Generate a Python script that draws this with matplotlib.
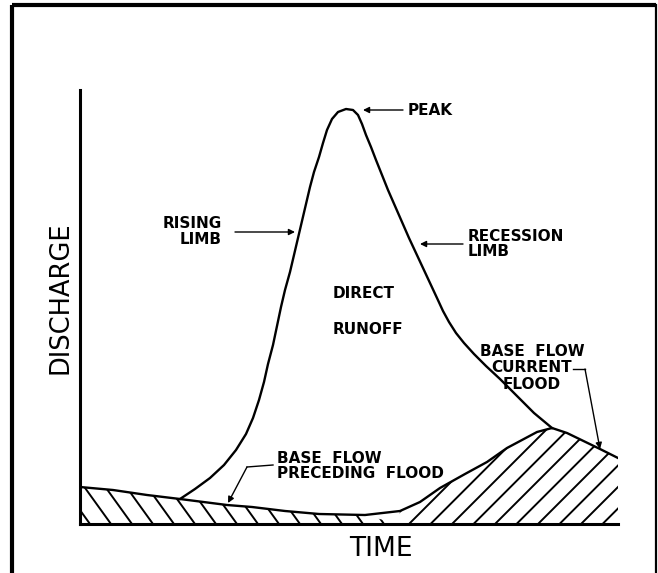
import numpy as np
import matplotlib
matplotlib.use('Agg')
import matplotlib.pyplot as plt
from matplotlib.patches import Polygon
from matplotlib.lines import Line2D

plt.rcParams['font.family'] = ['DejaVu Sans']

# hydrograph (direct runoff curve), time vs discharge in arbitrary units
hydro_t = [100, 115, 130, 144, 156, 166, 173, 179, 184, 188, 193, 197, 201, 205,
           210, 214, 218, 222, 226, 230, 234, 239, 243, 247, 252, 258, 266, 273,
           278, 282, 286, 291, 296, 302, 308, 315, 322, 329, 336, 343, 350, 357,
           363, 369, 376, 384, 394, 406, 420, 436, 454, 472]
hydro_q = [25, 35, 46, 59, 74, 90, 106, 124, 142, 160, 179, 198, 217, 234,
           252, 269, 286, 303, 320, 337, 352, 367, 381, 394, 405, 412, 415, 414,
           409, 400, 389, 377, 364, 349, 334, 318, 302, 286, 271, 256, 241, 226,
           213, 202, 191, 181, 170, 158, 145, 129, 111, 96]

# base flow line (preceding flood, then current flood)
base_t = [0, 33, 67, 100, 147, 172, 205, 239, 285, 320, 340, 360, 385, 407,
          427, 457, 472, 487, 520, 538]
base_q = [37, 34, 29, 25, 19, 17, 13, 10, 9, 13, 22, 36, 50, 62,
          76, 92, 96, 91, 75, 66]
split_t = 318  # where preceding base flow ends and current base flow begins

W, H = 658, 573
fig = plt.figure(figsize=(W / 100, H / 100), dpi=100)
ax = fig.add_axes([80 / W, (H - 524) / H, 538 / W, (524 - 90) / H])
ax.set_xlim(0, 538)
ax.set_ylim(0, 434)
for s in ['top', 'right']:
    ax.spines[s].set_visible(False)
ax.spines['left'].set_linewidth(2.2)
ax.spines['bottom'].set_linewidth(2.2)
ax.set_xticks([])
ax.set_yticks([])

# outer frame (bottom edge is cut off in the original)
frame = dict(color='black', lw=3, transform=fig.transFigure, solid_capstyle='butt')
fig.add_artist(Line2D([12 / W, 12 / W], [0, 1 - 5 / H], **frame))
fig.add_artist(Line2D([12 / W, 656 / W], [1 - 5 / H, 1 - 5 / H], **frame))
fig.add_artist(Line2D([656 / W, 656 / W], [0, 1 - 5 / H], color='black', lw=1.6,
                      transform=fig.transFigure))

bt = np.array(base_t)
bq = np.array(base_q)


def hatch(poly_pts, spacing, slope, lo, hi):
    poly = Polygon(poly_pts, closed=True, fc='none', ec='none')
    ax.add_patch(poly)
    qs = np.array([0, 150])
    for x0 in np.arange(lo, hi, spacing):
        ln, = ax.plot(x0 + slope * qs, qs, color='black', lw=1.4)
        ln.set_clip_path(poly)


left = bt <= split_t
pts_left = list(zip(bt[left], bq[left])) + [(split_t, 0), (0, 0)]
hatch(pts_left, 21, -0.72, 10, 380)

right = bt >= split_t
pts_right = list(zip(bt[right], bq[right])) + [(538, 0), (split_t, 0)]
hatch(pts_right, 21.5, 1.0, 200, 545)

ax.plot(base_t, base_q, color='black', lw=1.7, solid_joinstyle='round')
ax.plot(hydro_t, hydro_q, color='black', lw=1.7, solid_joinstyle='round')

lab = dict(fontsize=11, fontweight='bold', color='black')
arr = dict(arrowstyle='-|>', color='black', lw=1.0, mutation_scale=9, shrinkA=0, shrinkB=0)

ax.text(328, 414, 'PEAK', ha='left', va='center', **lab)
ax.annotate('', xy=(283, 414), xytext=(323, 414), arrowprops=arr)

ax.text(142, 292.5, 'RISING\nLIMB', ha='right', va='center', multialignment='right',
        linespacing=1.05, **lab)
ax.annotate('', xy=(215, 292), xytext=(155, 292), arrowprops=arr)

ax.text(388, 280, 'RECESSION\nLIMB', ha='left', va='center', multialignment='left',
        linespacing=1.05, **lab)
ax.annotate('', xy=(340, 280), xytext=(383, 280), arrowprops=arr)

ax.text(253, 231, 'DIRECT', ha='left', va='center', **lab)
ax.text(253, 194, 'RUNOFF', ha='left', va='center', **lab)

ax.text(452, 156, 'BASE  FLOW\nCURRENT\nFLOOD', ha='center', va='center',
        multialignment='center', linespacing=1.1, **lab)
ax.plot([493, 505], [155, 155], color='black', lw=1.0)
ax.annotate('', xy=(520, 75), xytext=(505, 155), arrowprops=arr)

ax.text(197, 58, 'BASE  FLOW\nPRECEDING  FLOOD', ha='left', va='center',
        multialignment='left', linespacing=1.05, **lab)
ax.plot([193, 167], [59, 57], color='black', lw=1.0)
ax.annotate('', xy=(148, 21), xytext=(167, 57), arrowprops=arr)

fig.text(61 / W, 1 - 298 / H, 'DISCHARGE', rotation=90, ha='center', va='center',
         fontsize=18.5, color='black')
fig.text(381 / W, 1 - 549 / H, 'TIME', ha='center', va='center', fontsize=19,
         color='black')

fig.savefig('out.png', dpi=100)
